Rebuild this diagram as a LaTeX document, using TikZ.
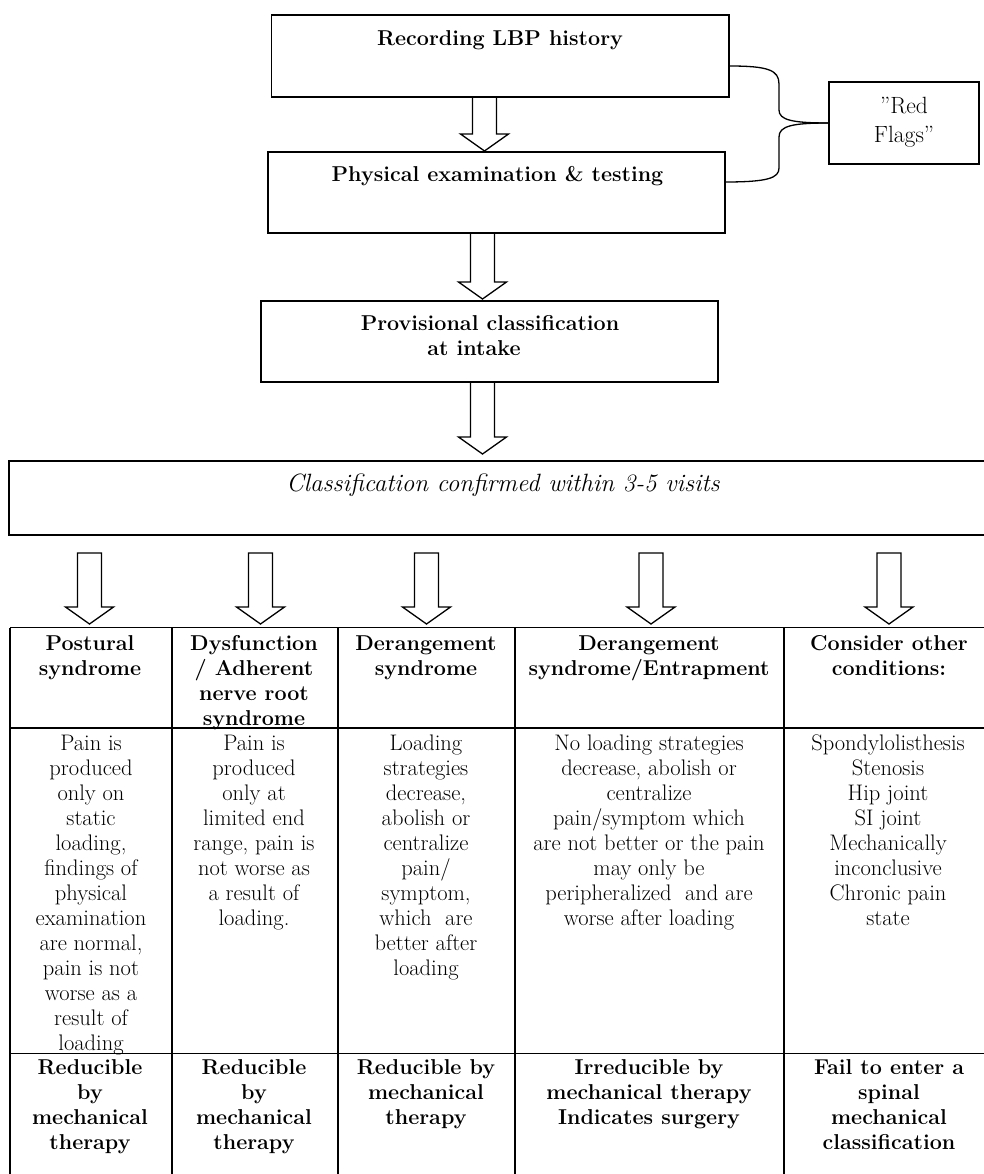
\documentclass[tikz,border=0pt]{standalone}
\usetikzlibrary{calc}
\newcommand\fst{\rule{0pt}{18pt}}
\begin{document}
\begin{tikzpicture}[x=1pt,y=-1pt,
  box/.style={draw, line width=1.3pt, inner sep=0pt, outer sep=0pt},
  bftext/.style={font=\fontsize{21.5}{25}\selectfont\bfseries, align=center, inner sep=0pt, anchor=north},
  rmtext/.style={font=\fontsize{22.5}{25}\selectfont, align=center, inner sep=0pt, anchor=north},
  ittext/.style={font=\fontsize{25}{29}\selectfont\itshape, align=center, inner sep=0pt, anchor=north},
  tline/.style={line width=1.8pt},
  blockarrow/.style={line width=1.3pt, line join=miter, to path={
    ($(\tikztostart)+(-12pt,0pt)$) -- ($(\tikztotarget)+(-12pt,17pt)$)
    -- ($(\tikztotarget)+(-24pt,17pt)$) -- (\tikztotarget)
    -- ($(\tikztotarget)+(24pt,17pt)$) -- ($(\tikztotarget)+(12pt,17pt)$)
    -- ($(\tikztostart)+(12pt,0pt)$) -- cycle}}
]
\useasboundingbox (0,0) rectangle (983,1174);

% top boxes
\node[box, minimum width=457.5pt, minimum height=82pt] (b1) at (500.25,56) {};
\node[box, minimum width=457pt, minimum height=81pt] (b2) at (496.5,192.5) {};
\node[box, minimum width=150pt, minimum height=82pt] (rf) at (904,123) {};
\node[box, minimum width=457pt, minimum height=81pt] (pc) at (489.5,341.5) {};
\node[box, minimum width=986pt, minimum height=74pt] (cc) at (502,498) {};

\node[bftext] (t1) at (500,27) {\fst Recording LBP history};
\node[bftext] (t2) at (497.5,163) {\fst Physical examination \& testing};
\node[rmtext, font=\fontsize{23.5}{29}\selectfont] (trf) at (904,95) {\fst ”Red\\Flags”};
\node[bftext] (tpc) at (490,312) {\fst Provisional classification\\at intake\hspace*{32pt}};
\node[ittext] (tcc) at (503,473) {\fst Classification confirmed within 3-5 visits};

% red flags brace
\coordinate (c1) at (729,66);
\coordinate (c2) at (725,182);
\draw[line width=1.3pt] (c1) .. controls (768,66) and (779,70) .. (779,84) -- (779,110)
   .. controls (779,120) and (792,123) .. (rf.west);
\draw[line width=1.3pt] (rf.west) .. controls (792,123) and (779,126) .. (779,137) -- (779,168)
   .. controls (779,178) and (768,182) .. (c2);

% arrows
\coordinate (a1s) at (484.5,97);   \coordinate (a1e) at (484.5,151);
\coordinate (a2s) at (482.5,233);  \coordinate (a2e) at (482.5,299);
\coordinate (a3s) at (482.5,382);  \coordinate (a3e) at (482.5,454);
\draw[blockarrow] (a1s) to (a1e);
\draw[blockarrow] (a2s) to (a2e);
\draw[blockarrow] (a3s) to (a3e);
\foreach \i/\xx in {1/89.5, 2/260.5, 3/426.5, 4/651, 5/889}{
  \coordinate (k\i s) at (\xx,553);
  \coordinate (k\i e) at (\xx,624);
  \draw[blockarrow] (k\i s) to (k\i e);
}

% table lines
\draw[tline] (10,627.5) -- (995,627.5);
\draw[tline] (10,728) -- (995,728);
\draw[tline] (10,1053.5) -- (995,1053.5);
\foreach \xx in {10,172,338,515,784}{
  \draw[tline] (\xx,627.5) -- (\xx,1180);
}

% header row
\node[bftext] (h1) at (90,632) {\fst Postural\\syndrome};
\node[bftext] (h2) at (254,632) {\fst Dysfunction\\/ Adherent\\nerve root\\syndrome};
\node[bftext] (h3) at (426,632) {\fst Derangement\\syndrome};
\node[bftext] (h4) at (649,632) {\fst Derangement\\syndrome/Entrapment};
\node[bftext] (h5) at (889,632) {\fst Consider other\\conditions:};

% content row
\node[rmtext] (d1) at (91,732) {\fst Pain is\\produced\\only on\\static\\loading,\\findings of\\physical\\examination\\are normal,\\pain is not\\worse as a\\result of\\loading};
\node[rmtext] (d2) at (254,732) {\fst Pain is\\produced\\only at\\limited end\\range, pain is\\not worse as\\a result of\\loading.};
\node[rmtext] (d3) at (426,732) {\fst Loading\\strategies\\decrease,\\abolish or\\centralize\\pain/\\symptom,\\which~ are\\better after\\loading};
\node[rmtext] (d4) at (649,732) {\fst No loading strategies\\decrease, abolish or\\centralize\\pain/symptom which\\are not better or the pain\\may only be\\peripheralized~ and are\\worse after loading};
\node[rmtext] (d5) at (888,732) {\fst Spondylolisthesis\\Stenosis\\Hip joint\\SI joint\\Mechanically\\inconclusive\\Chronic pain\\state};

% bottom row
\node[bftext] (r1) at (90,1056) {\fst Reducible\\by\\mechanical\\therapy};
\node[bftext] (r2) at (254,1056) {\fst Reducible\\by\\mechanical\\therapy};
\node[bftext] (r3) at (426,1056) {\fst Reducible by\\mechanical\\therapy};
\node[bftext] (r4) at (649,1056) {\fst Irreducible by\\mechanical therapy\\Indicates surgery};
\node[bftext] (r5) at (889,1056) {\fst Fail to enter a\\spinal\\mechanical\\classification};
\end{tikzpicture}
\end{document}
